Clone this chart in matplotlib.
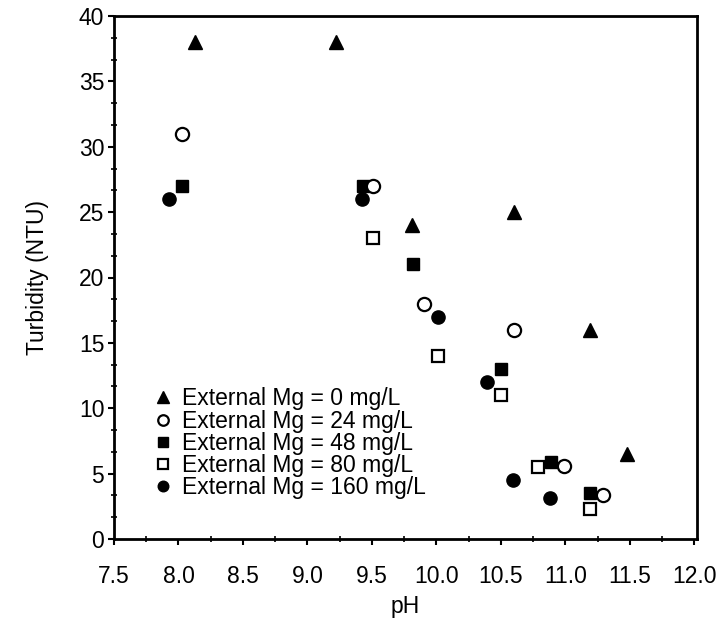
import matplotlib
matplotlib.use("Agg")
import matplotlib.pyplot as plt
from matplotlib.ticker import MultipleLocator

plt.rcParams['font.family'] = ['Liberation Sans', 'DejaVu Sans']

# Data
ph_0 = [8.13, 9.22, 9.81, 10.60, 11.19, 11.48]
turb_0 = [38, 38, 24, 25, 16, 6.5]
ph_24 = [8.03, 9.51, 9.90, 10.60, 10.99, 11.29]
turb_24 = [31, 27, 18, 16, 5.6, 3.4]
ph_48 = [8.03, 9.43, 9.82, 10.50, 10.89, 11.19]
turb_48 = [27, 27, 21, 13, 5.9, 3.5]
ph_80 = [9.51, 10.01, 10.50, 10.79, 11.19]
turb_80 = [23, 14, 11, 5.5, 2.3]
ph_160 = [7.93, 9.42, 10.01, 10.39, 10.59, 10.88]
turb_160 = [26, 26, 17, 12, 4.5, 3.1]

labels = ["External Mg = 0 mg/L", "External Mg = 24 mg/L", "External Mg = 48 mg/L",
          "External Mg = 80 mg/L", "External Mg = 160 mg/L"]

fig = plt.figure(figsize=(7.18, 6.23), dpi=100)
ax = fig.add_axes([114/718, (623-539)/623, (697-114)/718, (539-16)/623])

ms = 9.5
ax.plot(ph_0, turb_0, linestyle='none', marker='^', color='black', markersize=ms+0.5, label=labels[0])
ax.plot(ph_24, turb_24, linestyle='none', marker='o', markerfacecolor='white', markeredgecolor='black',
        markeredgewidth=1.6, markersize=ms, label=labels[1], zorder=3)
ax.plot(ph_48, turb_48, linestyle='none', marker='s', color='black', markersize=ms-0.5, label=labels[2])
ax.plot(ph_80, turb_80, linestyle='none', marker='s', markerfacecolor='white', markeredgecolor='black',
        markeredgewidth=1.6, markersize=ms-0.5, label=labels[3])
ax.plot(ph_160, turb_160, linestyle='none', marker='o', color='black', markersize=ms, label=labels[4])

ax.set_xlim(7.5, 12.02)
ax.set_ylim(0, 40)
ax.xaxis.set_major_locator(MultipleLocator(0.5))
ax.xaxis.set_minor_locator(MultipleLocator(0.25))
ax.yaxis.set_major_locator(MultipleLocator(5))
ax.yaxis.set_minor_locator(MultipleLocator(5/3))
ax.xaxis.set_major_formatter(plt.FormatStrFormatter('%.1f'))

for sp in ax.spines.values():
    sp.set_linewidth(2.0)

fs = 16.5
ax.tick_params(which='major', direction='out', width=1.5, labelsize=fs, colors='black')
ax.tick_params(axis='x', which='major', length=4, pad=14.5)
ax.tick_params(axis='y', which='major', length=4, pad=3)
ax.tick_params(which='minor', direction='inout', length=4, width=1.2)

ax.set_xlabel("pH", fontsize=fs, labelpad=5.5)
ax.set_ylabel("Turbidity (NTU)", fontsize=fs, labelpad=21.5)

leg = ax.legend(loc='lower left', bbox_to_anchor=(0.05, 0.058), frameon=False, fontsize=fs,
                handlelength=0.9, handletextpad=0.4, labelspacing=-0.03, markerscale=0.8,
                borderaxespad=0)

fig.savefig("out.png", dpi=100)
